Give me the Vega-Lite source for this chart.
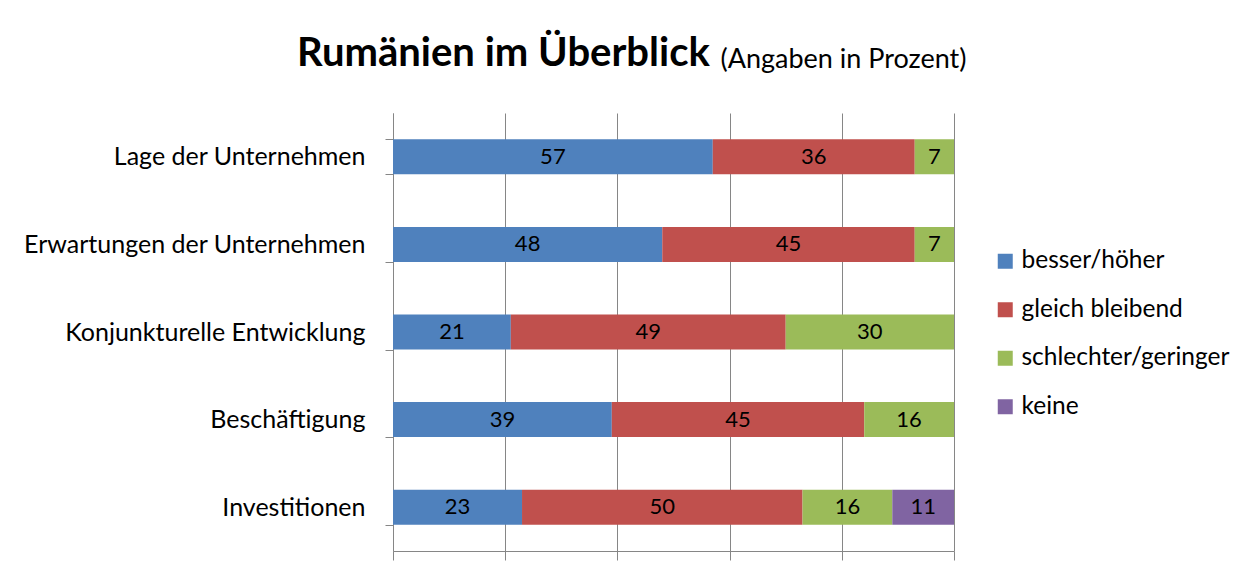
{
  "$schema": "https://vega.github.io/schema/vega-lite/v6.json",
  "width": 561,
  "height": 438,
  "autosize": {"type": "none"},
  "padding": {"left": 393, "top": 113, "right": 298, "bottom": 26},
  "background": "white",
  "title": {
    "text": "Rumänien im Überblick",
    "font": "Lato",
    "fontSize": 40,
    "fontWeight": "bold",
    "color": "black",
    "anchor": "start",
    "frame": "group",
    "dx": -96,
    "dy": 61,
    "baseline": "alphabetic",
    "offset": 0
  },
  "data": {
    "values": [
      {"Kategorie": "Lage der Unternehmen", "Antwort": "besser/höher", "Wert": 57, "Reihenfolge": 1},
      {"Kategorie": "Lage der Unternehmen", "Antwort": "gleich bleibend", "Wert": 36, "Reihenfolge": 2},
      {"Kategorie": "Lage der Unternehmen", "Antwort": "schlechter/geringer", "Wert": 7, "Reihenfolge": 3},
      {"Kategorie": "Erwartungen der Unternehmen", "Antwort": "besser/höher", "Wert": 48, "Reihenfolge": 1},
      {"Kategorie": "Erwartungen der Unternehmen", "Antwort": "gleich bleibend", "Wert": 45, "Reihenfolge": 2},
      {"Kategorie": "Erwartungen der Unternehmen", "Antwort": "schlechter/geringer", "Wert": 7, "Reihenfolge": 3},
      {"Kategorie": "Konjunkturelle Entwicklung", "Antwort": "besser/höher", "Wert": 21, "Reihenfolge": 1},
      {"Kategorie": "Konjunkturelle Entwicklung", "Antwort": "gleich bleibend", "Wert": 49, "Reihenfolge": 2},
      {"Kategorie": "Konjunkturelle Entwicklung", "Antwort": "schlechter/geringer", "Wert": 30, "Reihenfolge": 3},
      {"Kategorie": "Beschäftigung", "Antwort": "besser/höher", "Wert": 39, "Reihenfolge": 1},
      {"Kategorie": "Beschäftigung", "Antwort": "gleich bleibend", "Wert": 45, "Reihenfolge": 2},
      {"Kategorie": "Beschäftigung", "Antwort": "schlechter/geringer", "Wert": 16, "Reihenfolge": 3},
      {"Kategorie": "Investitionen", "Antwort": "besser/höher", "Wert": 23, "Reihenfolge": 1},
      {"Kategorie": "Investitionen", "Antwort": "gleich bleibend", "Wert": 50, "Reihenfolge": 2},
      {"Kategorie": "Investitionen", "Antwort": "schlechter/geringer", "Wert": 16, "Reihenfolge": 3},
      {"Kategorie": "Investitionen", "Antwort": "keine", "Wert": 11, "Reihenfolge": 4}
    ]
  },
  "encoding": {
    "y": {
      "field": "Kategorie",
      "type": "nominal",
      "sort": ["Lage der Unternehmen", "Erwartungen der Unternehmen", "Konjunkturelle Entwicklung", "Beschäftigung", "Investitionen"],
      "scale": {"paddingInner": 0.6, "paddingOuter": 0.3},
      "axis": {
        "title": "(Angaben in Prozent)",
        "titleAngle": 0,
        "titleX": 327,
        "titleY": -46,
        "titleAlign": "left",
        "titleBaseline": "alphabetic",
        "titleFont": "Lato",
        "titleFontSize": 27,
        "titleFontWeight": "normal",
        "titleColor": "black",
        "tickBand": "extent",
        "tickSize": 8,
        "tickColor": "#868686",
        "domainColor": "#868686",
        "labelPadding": 20,
        "labelFont": "Lato",
        "labelFontSize": 25,
        "labelColor": "black",
        "labelLimit": 0,
        "grid": false
      }
    },
    "x": {
      "field": "Wert",
      "type": "quantitative",
      "stack": "zero",
      "scale": {"domain": [0, 100], "nice": false},
      "axis": {
        "title": null,
        "labels": false,
        "labelOverlap": false,
        "values": [0, 20, 40, 60, 80, 100],
        "grid": true,
        "gridColor": "#868686",
        "gridOpacity": 1,
        "tickSize": 9,
        "tickColor": "#868686",
        "domainColor": "#868686"
      }
    },
    "order": {"field": "Reihenfolge", "type": "quantitative"}
  },
  "layer": [
    {
      "mark": {"type": "bar"},
      "encoding": {
        "color": {
          "field": "Antwort",
          "type": "nominal",
          "scale": {
            "domain": ["besser/höher", "gleich bleibend", "schlechter/geringer", "keine"],
            "range": ["#4F81BD", "#C0504D", "#9BBB59", "#8064A2"]
          },
          "legend": {
            "orient": "none",
            "legendX": 600,
            "legendY": 136,
            "title": null,
            "symbolType": "square",
            "symbolSize": 225,
            "symbolStrokeWidth": 0,
            "labelFont": "Lato",
            "labelFontSize": 24.5,
            "labelColor": "black",
            "labelLimit": 0,
            "labelOffset": 4,
            "rowPadding": 23.5,
            "padding": 0
          }
        }
      }
    },
    {
      "mark": {"type": "text", "font": "Lato", "fontSize": 22, "color": "black", "baseline": "middle"},
      "encoding": {
        "x": {"field": "Wert", "type": "quantitative", "stack": "zero", "bandPosition": 0.5},
        "detail": {"field": "Antwort"},
        "text": {"field": "Wert", "type": "quantitative"}
      }
    }
  ],
  "config": {"view": {"stroke": null}}
}
